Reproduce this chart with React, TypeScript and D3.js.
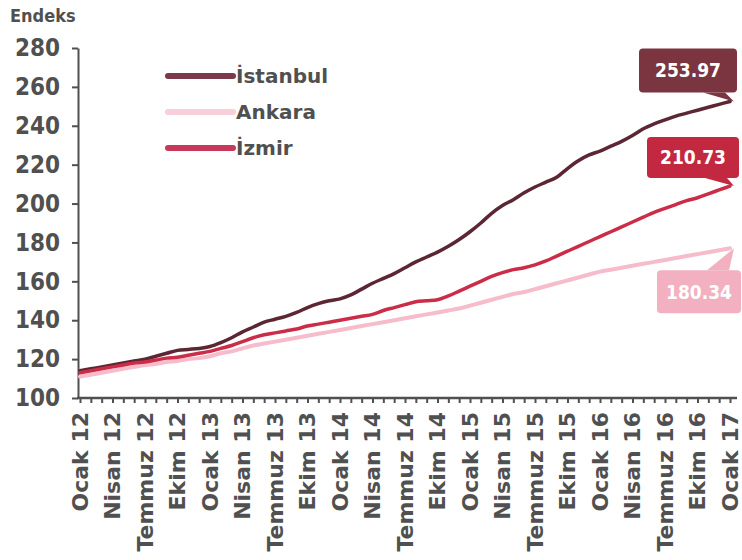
import * as d3 from "d3";
import React, { useEffect, useRef } from "react";

// x axis labels, one every 3 months (Ocak 12 .. Ocak 17)
const tickLabels = [
  "Ocak 12", "Nisan 12", "Temmuz 12", "Ekim 12",
  "Ocak 13", "Nisan 13", "Temmuz 13", "Ekim 13",
  "Ocak 14", "Nisan 14", "Temmuz 14", "Ekim 14",
  "Ocak 15", "Nisan 15", "Temmuz 15", "Ekim 15",
  "Ocak 16", "Nisan 16", "Temmuz 16", "Ekim 16",
  "Ocak 17",
];

// monthly index values, Jan 2012 .. Jan 2017
const istanbul = [
  114, 115, 116, 117, 118, 119, 120, 121.5, 123, 124.5, 125, 125.5,
  126.5, 128.5, 131, 134, 136.5, 139, 140.5, 142, 144, 146.5, 148.5, 150,
  151, 153, 156, 159, 161.5, 164, 167, 170, 172.5, 175, 178, 181.5,
  185.5, 190, 195, 199, 202, 205.5, 208.5, 211, 213.5, 218, 222, 225,
  227, 229.5, 232, 235, 238.5, 241, 243, 245, 246.5, 248, 249.5, 251,
  252.5,
];
const ankara = [
  111, 112, 113, 114, 115, 116, 117, 117.5, 118.5, 119, 120, 120.5,
  121.5, 123, 124, 125.5, 127, 128, 129, 130, 131, 132, 133, 134,
  135, 136, 137, 138, 139, 140, 141, 142, 143, 144, 145, 146,
  147.5, 149, 150.5, 152, 153.5, 154.5, 156, 157.5, 159, 160.5, 162, 163.5,
  165, 166, 167, 168, 169, 170, 171, 172, 173, 174, 175, 176,
  177,
];
const izmir = [
  113, 114, 115, 116, 117, 118, 118.5, 119.5, 120.5, 121, 122, 123,
  124, 125.5, 127, 129, 131, 132.5, 133.5, 134.5, 135.5, 137, 138, 139,
  140, 141, 142, 143, 145, 146.5, 148, 149.5, 150, 150.5, 152.5, 155,
  157.5, 160, 162.5, 164.5, 166, 167, 168.5, 170.5, 173, 175.5, 178, 180.5,
  183, 185.5, 188, 190.5, 193, 195.5, 197.5, 199.5, 201.5, 203, 205, 207,
  209,
];

const seriesNames = ["İstanbul", "Ankara", "İzmir"];
const seriesValues = [istanbul, ankara, izmir];
const seriesColors = ["#5c2634", "#f6bccb", "#cb2c48"];
const legendColors = ["#7b3a4c", "#f9cfd9", "#c8385a"];
const boxColors = ["#7a3541", "#f2b0c1", "#c2283f"];
const endLabels = ["253.97", "180.34", "210.73"];
const yTicks = [100, 120, 140, 160, 180, 200, 220, 240, 260, 280];

const App = () => {
  const svgRef = useRef(null);

  useEffect(() => {
    const svg = d3.select(svgRef.current);
    svg.selectAll("*").remove();

    const grey = "#505050";
    const n = istanbul.length;

    const x = d3.scaleLinear().domain([0, n - 1]).range([80, 730]);
    const y = d3.scaleLinear().domain([100, 280]).range([398, 48]);

    // title
    svg
      .append("text")
      .text("Endeks")
      .attr("x", 10)
      .attr("y", 22)
      .style("font-family", "DejaVu Sans")
      .style("font-stretch", "condensed")
      .style("font-weight", "bold")
      .style("font-size", "18px")
      .style("fill", grey);

    // y axis
    const yAxis = svg
      .append("g")
      .attr("transform", "translate(78,0)")
      .call(
        d3.axisLeft(y).tickValues(yTicks).tickSize(6).tickSizeOuter(0).tickPadding(12)
      );
    yAxis.select(".domain").attr("stroke", grey).attr("stroke-width", 2);
    yAxis.selectAll(".tick line").attr("stroke", grey).attr("stroke-width", 2);
    yAxis
      .selectAll(".tick text")
      .style("font-family", "DejaVu Sans")
      .style("font-stretch", "condensed")
      .style("font-weight", "bold")
      .style("font-size", "24px")
      .style("fill", grey);

    // x axis, monthly ticks
    const xAxis = svg
      .append("g")
      .attr("transform", "translate(0,398)")
      .call(
        d3
          .axisBottom(x)
          .tickValues(d3.range(n))
          .tickSize(5)
          .tickSizeOuter(0)
          .tickFormat(() => "")
      );
    xAxis.select(".domain").remove();
    xAxis.selectAll(".tick line").attr("stroke", grey).attr("stroke-width", 2);
    svg
      .append("line")
      .attr("x1", 77)
      .attr("x2", 737)
      .attr("y1", 398)
      .attr("y2", 398)
      .attr("stroke", grey)
      .attr("stroke-width", 2.5);

    svg
      .append("g")
      .selectAll("text")
      .data(tickLabels)
      .join("text")
      .text((d) => d)
      .attr("transform", (_d, i) => `translate(${x(i * 3)},412) rotate(-90)`)
      .attr("text-anchor", "end")
      .attr("dy", "0.36em")
      .style("font-family", "DejaVu Sans")
      .style("font-weight", "bold")
      .style("font-size", "22px")
      .style("fill", grey);

    // lines
    const line = d3
      .line<number>()
      .x((_d, i) => x(i))
      .y((d) => y(d))
      .curve(d3.curveMonotoneX);

    [0, 1, 2].forEach((k) => {
      svg
        .append("path")
        .datum(seriesValues[k])
        .attr("d", line)
        .attr("fill", "none")
        .attr("stroke", seriesColors[k])
        .attr("stroke-width", k === 1 ? 4 : 3.5)
        .attr("stroke-linejoin", "round")
        .attr("stroke-linecap", "round");
    });

    // legend
    const legend = svg.append("g");
    seriesNames.forEach((name, k) => {
      const ly = 76 + k * 36;
      legend
        .append("line")
        .attr("x1", 168)
        .attr("x2", 233)
        .attr("y1", ly)
        .attr("y2", ly)
        .attr("stroke", legendColors[k])
        .attr("stroke-width", 6)
        .attr("stroke-linecap", "round");
      legend
        .append("text")
        .text(name)
        .attr("x", 236)
        .attr("y", ly)
        .attr("dy", "0.36em")
        .style("font-family", "DejaVu Sans")
        .style("font-weight", "bold")
        .style("font-size", "20px")
        .style("fill", grey);
    });

    // end value callouts
    const boxes = [
      { w: 98, h: 44, dx: -95, dy: -53, up: false },
      { w: 84, h: 43, dx: -77, dy: 22, up: true },
      { w: 92, h: 41, dx: -87, dy: -49, up: false },
    ];
    [0, 2, 1].forEach((k) => {
      const vals = seriesValues[k];
      const ex = x(n - 1) + 4;
      const ey = y(vals[n - 1]);
      const b = boxes[k];
      const bx = ex + b.dx;
      const by = ey + b.dy;
      const g = svg.append("g");
      const baseY = b.up ? by : by + b.h;
      g.append("path")
        .attr(
          "d",
          `M${bx + b.w - 34},${baseY} L${bx + b.w - 12},${baseY} L${ex},${ey} Z`
        )
        .attr("fill", boxColors[k]);
      g.append("rect")
        .attr("x", bx)
        .attr("y", by)
        .attr("width", b.w)
        .attr("height", b.h)
        .attr("rx", 4)
        .attr("fill", boxColors[k]);
      g.append("text")
        .text(endLabels[k])
        .attr("x", bx + b.w / 2)
        .attr("y", by + b.h / 2)
        .attr("dy", "0.36em")
        .attr("text-anchor", "middle")
        .style("font-family", "DejaVu Sans")
        .style("font-stretch", "condensed")
        .style("font-weight", "bold")
        .style("font-size", "19px")
        .style("fill", "#ffffff");
    });
  }, []);

  return (
    <svg
      ref={svgRef}
      width={742}
      height={560}
      style={{ position: "absolute", left: 0, top: 0, background: "#ffffff" }}
    ></svg>
  );
};

export default App;
